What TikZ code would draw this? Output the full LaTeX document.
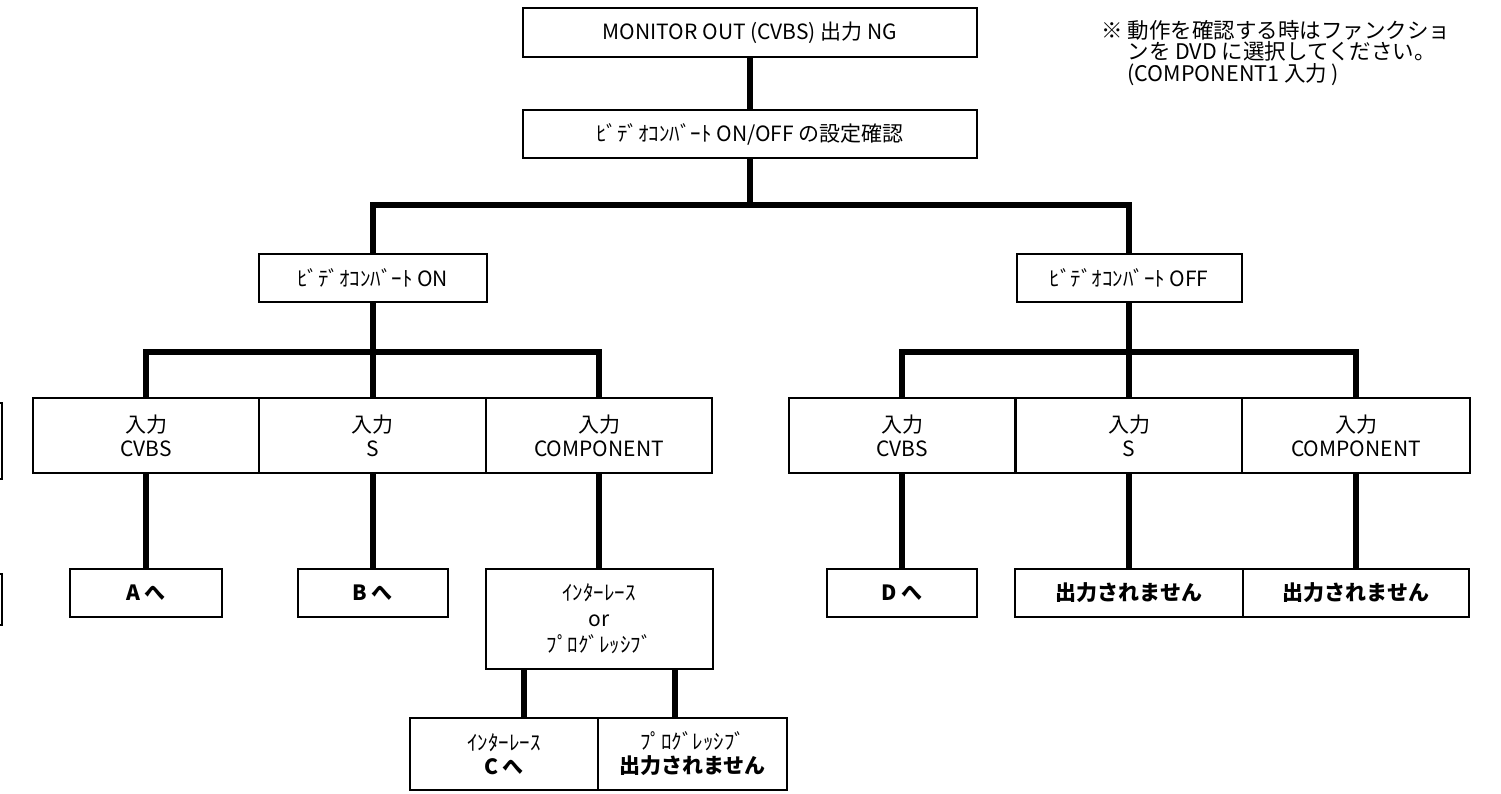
\documentclass[tikz,border=0pt]{standalone}
\usepackage{fontspec}
\setmainfont{Noto Sans CJK JP}
\begin{document}
\begin{tikzpicture}[x=1pt,y=-1pt,
  box/.style={draw, line width=2pt, rectangle, inner sep=0pt, align=center,
    font=\fontsize{21}{24}\selectfont},
  conn/.style={line width=6pt, line join=miter, line cap=butt},
  note/.style={align=left, inner sep=0pt, anchor=north west,
    font=\fontsize{21.5}{21.5}\selectfont}]
\useasboundingbox (0,0) rectangle (1501,793);
% top
\node[box, minimum width=454pt, minimum height=49pt] (top) at (750,32.5) {MONITOR OUT (CVBS) 出力 NG};
\node[box, minimum width=454pt, minimum height=48pt] (conf) at (750,134) {ﾋﾞﾃﾞｵｺﾝﾊﾞｰﾄ ON/OFF の設定確認};
\coordinate (j1) at (750,205);
\node[box, minimum width=228pt, minimum height=48pt] (on) at (372.5,278) {ﾋﾞﾃﾞｵｺﾝﾊﾞｰﾄ ON};
\node[box, minimum width=225pt, minimum height=48pt] (off) at (1129,278) {ﾋﾞﾃﾞｵｺﾝﾊﾞｰﾄ OFF};
% rows
\coordinate (jL) at (372.5,352);
\coordinate (jR) at (1129,352);
\node[box, minimum width=226.5pt, minimum height=75pt] (cvbsL) at (146,435.5) {入力\\CVBS};
\node[box, minimum width=226.5pt, minimum height=75pt] (sL) at (372.5,435.5) {入力\\S};
\node[box, minimum width=226.5pt, minimum height=75pt] (compL) at (599,435.5) {入力\\COMPONENT};
\node[box, minimum width=226pt, minimum height=75pt] (cvbsR) at (902,435.5) {入力\\CVBS};
\node[box, minimum width=226pt, minimum height=75pt] (sR) at (1129,435.5) {入力\\S};
\node[box, minimum width=228pt, minimum height=75pt] (compR) at (1356,435.5) {入力\\COMPONENT};
% bottom
\node[box, minimum width=152pt, minimum height=48pt, font=\fontsize{21}{24}\selectfont\bfseries] (A) at (146,593) {A へ};
\node[box, minimum width=150pt, minimum height=48pt, font=\fontsize{21}{24}\selectfont\bfseries] (B) at (372.5,593) {B へ};
\node[box, minimum width=227pt, minimum height=100pt, font=\fontsize{21}{26}\selectfont] (ip) at (599,619) {ｲﾝﾀｰﾚｰｽ\\or\\ﾌﾟﾛｸﾞﾚｯｼﾌﾞ};
\node[box, minimum width=150pt, minimum height=48pt, font=\fontsize{21}{24}\selectfont\bfseries] (D) at (902,593) {D へ};
\node[box, minimum width=228pt, minimum height=48pt, font=\fontsize{21}{24}\selectfont\bfseries] (n1) at (1129,593) {出力されません};
\node[box, minimum width=226pt, minimum height=48pt, font=\fontsize{21}{24}\selectfont\bfseries] (n2) at (1356,593) {出力されません};
\node[box, minimum width=188pt, minimum height=72pt] (C) at (504,754) {ｲﾝﾀｰﾚｰｽ\\\textbf{C へ}};
\node[box, minimum width=189pt, minimum height=72pt] (P) at (692.5,754) {ﾌﾟﾛｸﾞﾚｯｼﾌﾞ\\\textbf{出力されません}};
% partial boxes at left edge
\draw[line width=2pt] (-60,403) rectangle (2,479);
\draw[line width=2pt] (-60,574) rectangle (2,625);
% connectors
\draw[conn] (top.south) -- (conf.north);
\draw[conn] (conf.south) -- (j1);
\draw[conn] (on.north) |- (j1) -| (off.north);
\draw[conn] (on.south) -- (sL.north);
\draw[conn] (cvbsL.north) |- (jL) -| (compL.north);
\draw[conn] (off.south) -- (sR.north);
\draw[conn] (cvbsR.north) |- (jR) -| (compR.north);
\draw[conn] (cvbsL.south) -- (A.north);
\draw[conn] (sL.south) -- (B.north);
\draw[conn] (compL.south) -- (ip.north);
\draw[conn] (cvbsR.south) -- (D.north);
\draw[conn] (sR.south) -- (n1.north);
\draw[conn] (compR.south) -- (n2.north);
\draw[conn] (ip.south -| 524,0) -- (C.north -| 524,0);
\draw[conn] (ip.south -| 675,0) -- (P.north -| 675,0);
% note
\node[note] (nt) at (1101,20) {※ 動作を確認する時はファンクショ\\\hphantom{※ }ンを DVD に選択してください。\\\hphantom{※ }(COMPONENT1 入力 )};
\end{tikzpicture}
\end{document}
